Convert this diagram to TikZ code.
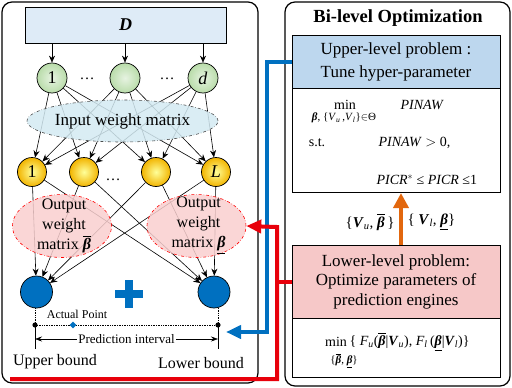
\documentclass[tikz,border=0pt]{standalone}
\usepackage{fontspec}
\setmainfont{Liberation Serif}
\usepackage{amsmath}
\usepackage{xcolor}
\usetikzlibrary{arrows.meta, shapes.geometric, positioning}
\definecolor{dbox}{HTML}{DEEBF7}
\definecolor{upbox}{HTML}{BDD7EE}
\definecolor{lowbox}{HTML}{F6C8C8}
\definecolor{wpink}{HTML}{F9CFCF}
\definecolor{wblue}{HTML}{D3EAF2}
\definecolor{ingreen}{HTML}{B9DCAA}
\definecolor{hidgold}{HTML}{F2B400}
\definecolor{outblue}{HTML}{0070C0}
\definecolor{linkred}{HTML}{E8000B}
\definecolor{linkorange}{HTML}{E2670E}
\tikzset{
  panel/.style={draw, line width=1.2pt, rounded corners=10pt},
  inode/.style={circle, draw, line width=0.7pt, minimum size=30pt, inner sep=0pt, inner color=ingreen!35, outer color=ingreen, font=\fontsize{18}{18}\selectfont},
  hnode/.style={circle, draw, line width=0.7pt, minimum size=29pt, inner sep=0pt, inner color=yellow!40, outer color=hidgold, font=\fontsize{18}{18}\selectfont},
  onode/.style={circle, draw, line width=0.7pt, fill=outblue, minimum size=32pt},
  wmat/.style={ellipse, draw, dash dot, line width=0.6pt, fill opacity=0.85, text opacity=1, inner sep=0pt},
  link/.style={-{Stealth[length=7pt,width=6pt]}, line width=0.6pt},
  eqtxt/.style={font=\fontsize{14}{16}\selectfont},
  subtxt/.style={font=\fontsize{11}{13}\selectfont},
}
\newcommand{\bbeta}{\textbf{\textit{β}}}
\newcommand{\obeta}{$\overline{\hbox{\bbeta}}$}
\newcommand{\ubeta}{\underline{\bbeta}}
\begin{document}
\begin{tikzpicture}[x=1pt, y=-1pt]
\useasboundingbox (0,0) rectangle (512,388);
% panels
\draw[panel] (2,2) rectangle (258,383);
\draw[panel] (285,2) rectangle (510,386);

% input layer
\node[draw, line width=0.7pt, fill=dbox, minimum width=201pt, minimum height=36pt, font=\fontsize{18}{18}\selectfont] (data) at (125.5,25) {\textbf{\textit{D}}};
\node[inode] (in1) at (52,78) {1};
\node[inode] (in2) at (125,78) {};
\node[inode] (in3) at (203,78) {\textit{d}};
\node[font=\fontsize{15}{15}\selectfont] (idots1) at (87,79) {\dots};
\node[font=\fontsize{15}{15}\selectfont] (idots2) at (167,79) {\dots};
\foreach \n in {in1,in2,in3}
  \draw[link] (data.south -| \n) -- (\n);

% hidden layer
\node[hnode] (h1) at (32,172) {1};
\node[hnode] (h2) at (84,172) {};
\node[hnode] (h3) at (156,172) {};
\node[hnode] (h4) at (216,172) {\textit{L}};
\node[font=\fontsize{15}{15}\selectfont] (hdots) at (113,180) {\dots};

% output layer
\node[onode] (o1) at (36.5,292) {};
\node[onode] (o2) at (214,292) {};
\draw[outblue, line width=7.5pt] (115,294) -- (143,294) (129,280) -- (129,308);

% weights
\foreach \a in {in1,in2,in3}
  \foreach \b in {h1,h2,h3,h4}
    \draw[link] (\a) -- (\b);
\foreach \a in {h1,h2,h3,h4}
  \foreach \b in {o1,o2}
    \draw[link] (\a) -- (\b);
\node[wmat, draw=black!70, fill=wblue, minimum width=191pt, minimum height=42pt, font=\fontsize{17}{18}\selectfont] (win) at (122.5,121) {Input weight matrix};
\node[wmat, draw=red, fill=wpink, minimum width=99pt, minimum height=63pt] (wout1) at (62,226) {};
\node[wmat, draw=red, fill=wpink, minimum width=99pt, minimum height=63pt] (wout2) at (196.5,226) {};
\node[font=\fontsize{16}{20}\selectfont, align=center] at ([xshift=2pt]wout1) {Output\\weight\\matrix \obeta};
\node[font=\fontsize{16}{20}\selectfont, align=center] at ([xshift=2pt]wout2) {Output\\weight\\matrix \ubeta};

% prediction interval
\coordinate (ub) at (35,325);
\coordinate (lb) at (218,325);
\draw[densely dotted, line width=0.7pt] (o1.south -| ub) -- (ub) -- (lb) -- (o2.south -| lb);
\fill (ub) circle (2.6pt);
\fill (lb) circle (2.6pt);
\node[diamond, fill=outblue, inner sep=0pt, minimum size=7pt] (actual) at (73,325) {};
\node[font=\fontsize{12}{13}\selectfont] at (77,314) {Actual Point};
\coordinate (ubfoot) at (35,349);
\coordinate (lbfoot) at (218,349);
\draw[line width=0.7pt] (ub) -- (ubfoot);
\draw[line width=0.7pt] (lb) -- (lbfoot);
\draw[{Stealth[length=7pt,width=5pt]}-{Stealth[length=7pt,width=5pt]}, line width=0.6pt] (35,339) -- (218,339)
  node[midway, fill=white, inner sep=1pt, font=\fontsize{13}{14}\selectfont] {Prediction interval};
\node[font=\fontsize{16}{17}\selectfont] (ubl) at (55,362) {Upper bound};
\node[font=\fontsize{16}{17}\selectfont] (lbl) at (201,363) {Lower bound};

% bi-level part
\node[font=\bfseries\fontsize{18.5}{20}\selectfont] (title) at (398,18) {Bi-level Optimization};
\node[draw, line width=0.7pt, fill=upbox, minimum width=208pt, minimum height=53pt, align=center, font=\fontsize{17}{23}\selectfont] (upper) at (396,61.5) {Upper-level problem :\\Tune hyper-parameter};
\node[draw, line width=0.7pt, minimum width=208pt, minimum height=104pt, below=0pt of upper] (upperf) {};
\node[eqtxt] at (345,105) {min};
\node[subtxt] at (344,118) {\bbeta, \{\textit{V}\textsubscript{\textit{u}}\,,\textit{V}\textsubscript{\textit{l}}\}$\in$Θ};
\node[eqtxt, anchor=west] at (397,105) {\textit{PINAW}};
\node[eqtxt] at (317,143) {s.t.};
\node[eqtxt, anchor=west] at (375,143) {\textit{PINAW} $>$ 0,};
\node[eqtxt, anchor=west] at (373,180) {\textit{PICR}$^{*}$ ≤ \textit{PICR} ≤1};

\node[draw, line width=0.7pt, fill=lowbox, minimum width=208pt, minimum height=73pt, font=\fontsize{17}{19.5}\selectfont, align=center] (lower) at (396,281.5) {Lower-level problem:\\Optimize parameters of\\prediction engines};
\node[draw, line width=0.7pt, minimum width=208pt, minimum height=59pt, below=0pt of lower] (lowerf) {};
\node[eqtxt] at (336,342) {min};
\node[subtxt] at (344,361) {\{\obeta, \ubeta\}};
\node[eqtxt, anchor=west] at (346,342) {\{ \textit{F}\textsubscript{\textit{u}}(\obeta|\textbf{\textit{V}}\textsubscript{\textit{u}}), \textit{F}\textsubscript{\textit{l}}\,(\ubeta|\textbf{\textit{V}}\textsubscript{\textit{l}})\}};

\node[font=\fontsize{15}{16}\selectfont, anchor=east] (parl) at (398,222) {\{\textbf{\textit{V}}\textsubscript{\textit{u}}, \obeta\,\}};
\node[font=\fontsize{15}{16}\selectfont, anchor=west] (parr) at (404,222) {\{ \textbf{\textit{V}}\textsubscript{\textit{l}}, \ubeta\}};
\draw[linkorange, line width=4.5pt, -{Triangle[length=15pt,width=15pt]}] ([xshift=5pt]lower.north) -- ([xshift=5pt]upperf.south);

% feedback links
\coordinate (bluecorner) at (267,332);
\coordinate (pitip) at (226,332);
\draw[outblue, line width=4pt, -{Triangle[length=15pt,width=13pt]}] (upper.west) -| (bluecorner) -- (pitip);
\coordinate (redfoot) at (10,379);
\coordinate (redknee) at (277,227);
\draw[linkred, line width=4pt, -{Triangle[length=15pt,width=13pt]}] (redfoot) -| (redknee) -- (wout2.east);
\draw[linkred, line width=4pt] (lower.west) -- (lower.west -| redknee);
\end{tikzpicture}
\end{document}
